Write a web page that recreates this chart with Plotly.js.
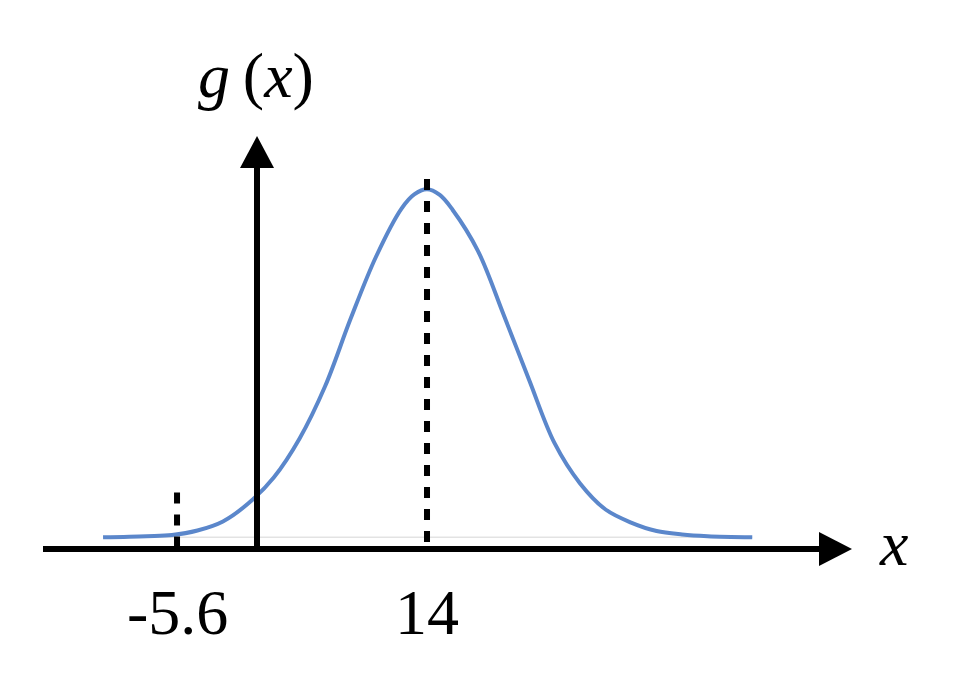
<!DOCTYPE html>
<html>
<head>
<meta charset="utf-8">
<script src="https://cdn.plot.ly/plotly-3.0.1.min.js"></script>
<style>html,body{margin:0;padding:0;background:#fff;}#chart{width:978px;height:678px;}</style>
</head>
<body>
<div id="chart"></div>
<script>
// Curve (x in data units, g(x) in density units)
const curveX = [-11.4, -8, -6, -4, -2, 0, 2, 4, 6, 8, 10, 12, 13, 14, 15, 16, 18, 20, 22, 24, 26, 28, 30, 32, 34, 36, 39.5];
const curveY = [0.0000, 0.0002, 0.0004, 0.0012, 0.0028, 0.0060, 0.0106, 0.0174, 0.0266, 0.0385, 0.0495, 0.0580, 0.0605, 0.0614, 0.0604, 0.0578, 0.0505, 0.0393, 0.0278, 0.0166, 0.0095, 0.0049, 0.0026, 0.0011, 0.0005, 0.0002, 0.0000];
// Marked x values and labels
const markX = [-5.6, 14];
const markLabels = ["-5.6", "14"];
const markTop = [0.0079, 0.0632];
const axisLevel = -0.00206;

const W = 978, H = 678;
const px = v => v / W;
const py = v => 1 - v / H;

const traces = [];
// light zero line
traces.push({
  x: [curveX[0], curveX[curveX.length - 1]], y: [0, 0],
  mode: 'lines', line: {color: '#e3e3e3', width: 1.5}, hoverinfo: 'skip', showlegend: false
});
traces.push({
  x: curveX, y: curveY, mode: 'lines',
  line: {color: '#5B87CB', width: 4, shape: 'spline', smoothing: 1},
  hoverinfo: 'skip', showlegend: false
});
markX.forEach((m, i) => {
  traces.push({
    x: [m, m], y: [markTop[i], axisLevel], mode: 'lines',
    line: {color: '#000', width: 6, dash: '11px,11px'},
    hoverinfo: 'skip', showlegend: false
  });
});

const serif = 'Liberation Serif, Times New Roman, serif';
const annotations = markX.map((m, i) => ({
  x: m, xref: 'x', y: py(612), yref: 'paper', text: markLabels[i],
  showarrow: false, xanchor: 'center', yanchor: 'middle',
  font: {family: serif, size: 64, color: '#000'}
}));
annotations.push({
  x: px(256), y: py(75), xref: 'paper', yref: 'paper',
  text: '<i>g</i>\u2009(<i>x</i>)', showarrow: false, xanchor: 'center', yanchor: 'middle',
  font: {family: serif, size: 64, color: '#000'}
});
annotations.push({
  x: px(893), y: py(543), xref: 'paper', yref: 'paper',
  text: '<i>x</i>', showarrow: false, xanchor: 'center', yanchor: 'middle',
  font: {family: serif, size: 64, color: '#000'}
});

const shapes = [
  {type: 'line', xref: 'paper', yref: 'paper', x0: px(43), x1: px(822), y0: py(549), y1: py(549),
   line: {color: '#000', width: 6}},
  {type: 'path', xref: 'paper', yref: 'paper',
   path: `M ${px(819)},${py(532)} L ${px(852)},${py(549)} L ${px(819)},${py(566)} Z`,
   fillcolor: '#000', line: {color: '#000', width: 0}},
  {type: 'line', xref: 'paper', yref: 'paper', x0: px(257), x1: px(257), y0: py(552), y1: py(166),
   line: {color: '#000', width: 6}},
  {type: 'path', xref: 'paper', yref: 'paper',
   path: `M ${px(240)},${py(168)} L ${px(257)},${py(136)} L ${px(274)},${py(168)} Z`,
   fillcolor: '#000', line: {color: '#000', width: 0}}
];

const layout = {
  width: W, height: H,
  margin: {l: 0, r: 0, t: 0, b: 0, pad: 0},
  paper_bgcolor: '#fff', plot_bgcolor: '#fff',
  xaxis: {range: [-19.48, 57.20], visible: false, fixedrange: true},
  yaxis: {range: [-0.02483, 0.0948], visible: false, fixedrange: true},
  showlegend: false,
  annotations: annotations,
  shapes: shapes
};

Plotly.newPlot('chart', traces, layout, {staticPlot: true, displayModeBar: false});
</script>
</body>
</html>
